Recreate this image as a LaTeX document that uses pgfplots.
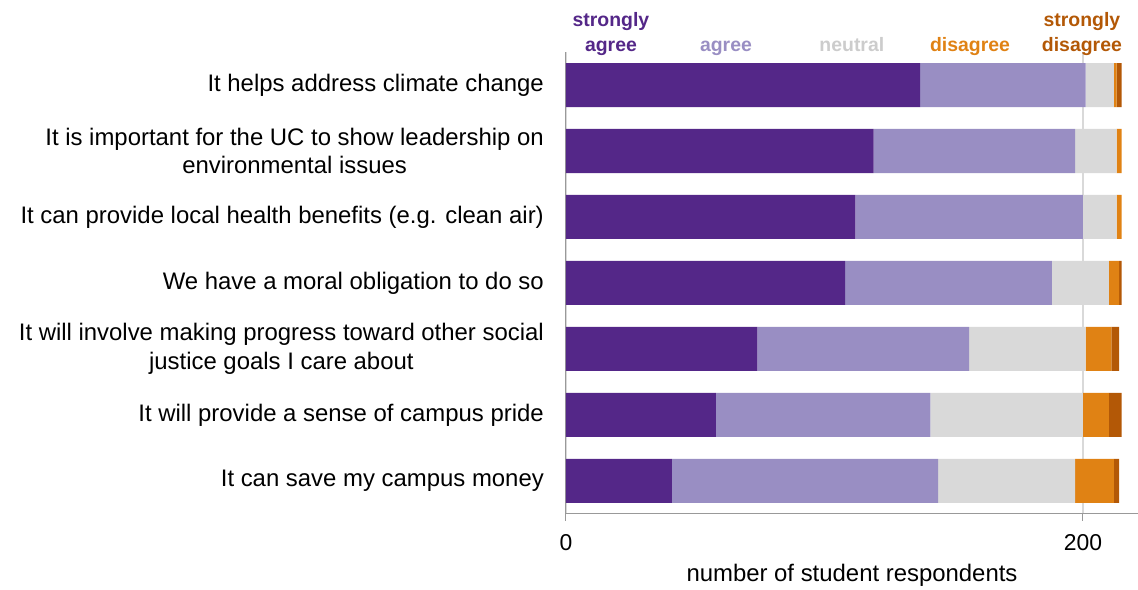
\documentclass[border=0pt]{standalone}
\usepackage{fontspec}
\setmainfont{Liberation Sans}
\usepackage{pgfplots}
\pgfplotsset{compat=1.18}
\usetikzlibrary{calc}
\definecolor{cSA}{HTML}{542788}
\definecolor{cA}{HTML}{998EC3}
\definecolor{cN}{HTML}{D9D9D9}
\definecolor{cNtxt}{HTML}{CCCCCC}
\definecolor{cD}{HTML}{E08214}
\definecolor{cSD}{HTML}{B35806}
\definecolor{axisgray}{HTML}{999999}
\tikzset{hdr/.style={anchor=base, font=\fontsize{19.5}{23}\selectfont\bfseries}}
\begin{document}
\begin{tikzpicture}
\begin{axis}[
  name=ax,
  scale only axis, width=572bp, height=462bp,
  xbar stacked, bar width=44bp,
  xmin=0, xmax=221.3, ymin=-0.5, ymax=6.5, y dir=reverse,
  clip=false,
  axis x line*=bottom, axis y line*=left,
  axis line style={draw=axisgray, line width=1bp},
  tick align=outside,
  major tick length=7bp, minor tick length=6bp,
  xtick={0,200},
  xtick style={draw=axisgray, line width=1bp},
  xmajorgrids, grid style={draw=cN, line width=1.2bp},
  ytick={0,...,6},
  ytick style={draw=none},
  minor ytick={-0.5,0.5,...,6.5},
  minor tick style={draw=axisgray, line width=1bp},
  yticklabels={
    It helps address climate change,
    It is important for the UC to show leadership on\\environmental issues,
    It can provide local health benefits (e.g. clean air),
    We have a moral obligation to do so,
    It will involve making progress toward other social\\justice goals I care about,
    It will provide a sense of campus pride,
    It can save my campus money},
  yticklabel style={align=center, inner sep=0pt, xshift=-15bp,
    font=\fontsize{24}{29}\selectfont},
  xticklabel style={font=\fontsize{23}{26}\selectfont, yshift=-10bp},
  /pgf/number format/assume math mode=true,
  xlabel={number of student respondents},
  xlabel style={at={(axis description cs:0.5,0)}, anchor=base, yshift=-68bp,
    font=\fontsize{24}{28}\selectfont},
]
\addplot[fill=cSA, draw=none] coordinates {(137,0) (119,1) (112,2) (108,3) (74,4) (58,5) (41,6)};
\addplot[fill=cA, draw=none] coordinates {(64,0) (78,1) (88,2) (80,3) (82,4) (83,5) (103,6)};
\addplot[fill=cN, draw=none] coordinates {(11,0) (16,1) (13,2) (22,3) (45,4) (59,5) (53,6)};
\addplot[fill=cD, draw=none] coordinates {(1,0) (2,1) (2,2) (4,3) (10,4) (10,5) (15,6)};
\addplot[fill=cSD, draw=none] coordinates {(2,0) (0,1) (0,2) (1,3) (3,4) (5,5) (2,6)};
% column headers above the plot area
\node[hdr, text=cSA, yshift=26bp] at (axis cs:17.4,-0.5) {strongly};
\node[hdr, text=cSA, yshift=0.5bp] at (axis cs:17.4,-0.5) {agree};
\node[hdr, text=cA, yshift=0.5bp] at (axis cs:61.9,-0.5) {agree};
\node[hdr, text=cNtxt, yshift=0.5bp] at (axis cs:110.6,-0.5) {neutral};
\node[hdr, text=cD, yshift=0.5bp] at (axis cs:156.3,-0.5) {disagree};
\node[hdr, text=cSD, yshift=26bp] at (axis cs:199.6,-0.5) {strongly};
\node[hdr, text=cSD, yshift=0.5bp] at (axis cs:199.6,-0.5) {disagree};
\end{axis}
\pgfresetboundingbox
\path[use as bounding box] ($(ax.south west)+(-566bp,-76bp)$) rectangle ($(ax.north east)+(0,52bp)$);
\end{tikzpicture}
\end{document}
